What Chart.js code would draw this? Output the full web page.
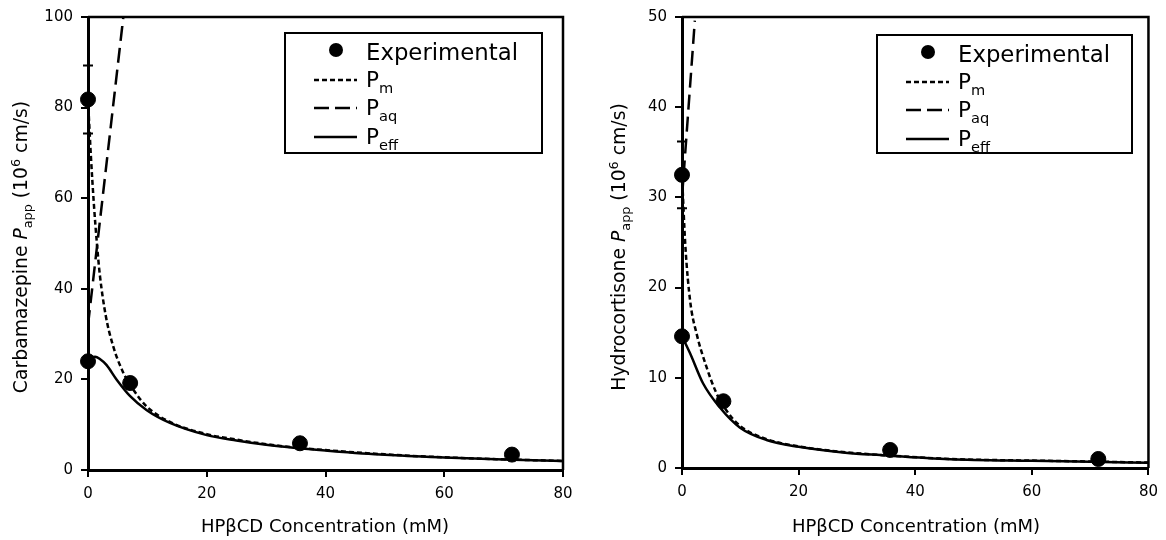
<!DOCTYPE html>
<html><head><meta charset="utf-8">
<script src="https://cdn.jsdelivr.net/npm/chart.js@4.4.1/dist/chart.umd.min.js"></script>
<style>
html,body{margin:0;padding:0;background:#fff;width:1166px;height:540px;overflow:hidden}
.box{position:absolute;top:0;width:583px;height:540px}
</style></head><body>
<div class="box" style="left:0"><canvas id="c1"></canvas></div>
<div class="box" style="left:583px"><canvas id="c2"></canvas></div>
<script>
// ---- data ----
const xTicks = [0, 20, 40, 60, 80];
const leftYTicks = [0, 20, 40, 60, 80, 100];
const rightYTicks = [0, 10, 20, 30, 40, 50];

const leftExpX = [0, 0, 7.1, 35.7, 71.4];
const leftExpY = [81.8, 24.0, 19.2, 5.9, 3.4];
const leftExpErr = [7.5, 0, 0, 0, 0];
const leftPmX = [0, 0.5, 1, 1.5, 2, 3, 4.2, 5.9, 7.6, 9.9, 13.8, 20, 25, 30, 35, 40, 50, 60, 70, 80];
const leftPmY = [81.7, 69, 58.5, 50, 43, 34, 27.5, 21.6, 17.8, 14, 10.6, 7.9, 6.7, 5.7, 4.95, 4.4, 3.45, 2.8, 2.35, 2.0];
const leftPaqX = [0, 5.95];
const leftPaqY = [32, 100];
const leftPeffX = [0, 0.6, 1.2, 2, 3.1, 4.8, 7.1, 9.9, 13.8, 20, 25, 30, 35, 40, 50, 60, 70, 80];
const leftPeffY = [24.2, 24.8, 25, 24.5, 23.2, 20, 16.3, 13.2, 10.4, 7.7, 6.5, 5.55, 4.85, 4.3, 3.35, 2.75, 2.3, 1.97];

const rightExpX = [0, 0, 7.1, 35.7, 71.4];
const rightExpY = [32.5, 14.6, 7.4, 2.0, 1.0];
const rightExpErr = [3.7, 0, 0, 0, 0];
const rightPmX = [0, 0.57, 1.4, 2.5, 4.2, 5.9, 7.6, 9.9, 14.5, 20, 28, 34, 46, 60, 70, 80];
const rightPmY = [32.5, 24.7, 18.5, 14.9, 11.2, 8.3, 6.4, 4.7, 3.2, 2.4, 1.75, 1.45, 1.0, 0.82, 0.72, 0.6];
const rightPaqX = [0, 2.2];
const rightPaqY = [30, 49.6];
const rightPeffX = [0, 1.4, 3.6, 6.5, 9.9, 14.5, 20, 28, 34, 46, 60, 70, 80];
const rightPeffY = [14.6, 12.7, 9.4, 6.7, 4.5, 3.1, 2.35, 1.7, 1.43, 0.98, 0.8, 0.7, 0.58];

const FONT = "'DejaVu Sans', Verdana, sans-serif";

function pts(xs, ys) { return xs.map((x, i) => ({ x: x, y: ys[i] })); }

function drawRich(ctx, segs, x, y, size, align) {
  const measure = s => {
    const fs = (s.sub || s.sup) ? size * 0.68 : size;
    ctx.font = (s.it ? 'italic ' : '') + fs + 'px ' + FONT;
    return ctx.measureText(s.t).width;
  };
  let total = 0;
  segs.forEach(s => total += measure(s));
  let cx = align === 'center' ? x - total / 2 : x;
  ctx.textBaseline = 'alphabetic';
  ctx.textAlign = 'left';
  segs.forEach(s => {
    const w = measure(s);
    let dy = 0;
    if (s.sub) dy = size * 0.28;
    if (s.sup) dy = -size * 0.38;
    ctx.fillText(s.t, cx, y + dy);
    cx += w;
  });
}

function makeChart(id, o) {
  const ctx = document.getElementById(id).getContext('2d');
  const deco = {
    id: 'deco',
    afterDatasetsDraw(chart) {
      const c = chart.ctx, a = chart.chartArea;
      const xs = chart.scales.x, ys = chart.scales.y;
      c.save();
      c.fillStyle = '#000';
      c.strokeStyle = '#000';
      c.lineWidth = 2;
      o.expX.forEach((xv, i) => {
        const e = o.expErr[i];
        if (!e) return;
        const px = xs.getPixelForValue(xv);
        const y1 = ys.getPixelForValue(o.expY[i] + e);
        const y2 = ys.getPixelForValue(o.expY[i] - e);
        c.beginPath();
        c.moveTo(px, y1); c.lineTo(px, y2);
        c.moveTo(px - 5, y1); c.lineTo(px + 5, y1);
        c.moveTo(px - 5, y2); c.lineTo(px + 5, y2);
        c.stroke();
      });
      c.lineWidth = 2.5;
      c.beginPath();
      c.moveTo(a.left, a.top); c.lineTo(a.right, a.top); c.lineTo(a.right, a.bottom);
      c.stroke();
      c.fillStyle = '#000';
      c.save();
      c.translate(o.yTitleX, o.yTitleY);
      c.rotate(-Math.PI / 2);
      drawRich(c, [{ t: o.yName + ' ' }, { t: 'P', it: true }, { t: 'app', sub: true }, { t: ' (10' }, { t: '6', sup: true }, { t: ' cm/s)' }], 0, 7, 18.8, 'center');
      c.restore();
      drawRich(c, [{ t: 'HPβCD Concentration (mM)' }], o.xTitleX, 532, 18, 'center');
      const L = o.legend;
      c.lineWidth = 2;
      c.strokeRect(L.x, L.y, L.w, L.h);
      c.beginPath();
      c.arc(L.x + 51, L.y + 17, 7, 0, Math.PI * 2);
      c.fill();
      drawRich(c, [{ t: 'Experimental' }], L.x + 81, L.y + 27, 22.8, 'left');
      const rows = [
        { sub: 'm', dash: [5, 3], dy: 47 },
        { sub: 'aq', dash: [15, 6], dy: 75 },
        { sub: 'eff', dash: [], dy: 104 }
      ];
      rows.forEach(r => {
        c.setLineDash(r.dash);
        c.lineWidth = 2.5;
        c.beginPath();
        c.moveTo(L.x + 29, L.y + r.dy);
        c.lineTo(L.x + 72, L.y + r.dy);
        c.stroke();
        c.setLineDash([]);
        drawRich(c, [{ t: 'P' }, { t: r.sub, sub: true }], L.x + 81, L.y + r.dy + 7, 21.5, 'left');
      });
      c.restore();
    }
  };
  const lineDs = (xs, ys, dash) => ({
    type: 'line', data: pts(xs, ys), borderColor: '#000', borderWidth: 2.5,
    borderDash: dash, pointRadius: 0, fill: false, cubicInterpolationMode: 'monotone'
  });
  return new Chart(ctx, {
    type: 'scatter',
    data: {
      datasets: [
        { label: 'Experimental', data: pts(o.expX, o.expY), backgroundColor: '#000', borderColor: '#000', pointRadius: 7.5, pointHoverRadius: 7.5, showLine: false, clip: false },
        lineDs(o.pmX, o.pmY, [5, 3]),
        lineDs(o.paqX, o.paqY, [15, 7]),
        lineDs(o.peffX, o.peffY, [])
      ]
    },
    options: {
      responsive: true, maintainAspectRatio: false, animation: false,
      layout: { padding: { top: o.top, right: o.right, left: 0, bottom: 0 } },
      plugins: { legend: { display: false }, tooltip: { enabled: false } },
      events: [],
      scales: {
        x: {
          type: 'linear', min: 0, max: 80,
          afterBuildTicks: s => { s.ticks = xTicks.map(v => ({ value: v })); },
          afterFit: s => { s.height = o.bottomH; },
          ticks: { color: '#000', font: { family: FONT, size: 15 }, padding: 8 },
          grid: { drawOnChartArea: false, drawTicks: true, tickLength: 7, color: '#000', lineWidth: 2 },
          border: { display: true, color: '#000', width: 3 }
        },
        y: {
          type: 'linear', min: 0, max: o.yMax,
          afterBuildTicks: s => { s.ticks = o.yTicks.map(v => ({ value: v })); },
          afterFit: s => { s.width = o.leftW; },
          ticks: { color: '#000', font: { family: FONT, size: 15 }, padding: 8 },
          grid: { drawOnChartArea: false, drawTicks: true, tickLength: 7, color: '#000', lineWidth: 2 },
          border: { display: true, color: '#000', width: 3 }
        }
      }
    },
    plugins: [deco]
  });
}

makeChart('c1', {
  expX: leftExpX, expY: leftExpY, expErr: leftExpErr,
  pmX: leftPmX, pmY: leftPmY, paqX: leftPaqX, paqY: leftPaqY, peffX: leftPeffX, peffY: leftPeffY,
  yMax: 100, yTicks: leftYTicks, yName: 'Carbamazepine',
  top: 17, right: 20, bottomH: 70, leftW: 88,
  yTitleX: 20, yTitleY: 247, xTitleX: 325,
  legend: { x: 285, y: 33, w: 257, h: 120 }
});
makeChart('c2', {
  expX: rightExpX, expY: rightExpY, expErr: rightExpErr,
  pmX: rightPmX, pmY: rightPmY, paqX: rightPaqX, paqY: rightPaqY, peffX: rightPeffX, peffY: rightPeffY,
  yMax: 50, yTicks: rightYTicks, yName: 'Hydrocortisone',
  top: 15, right: 16, bottomH: 72, leftW: 99,
  yTitleX: 35, yTitleY: 247, xTitleX: 333,
  legend: { x: 294, y: 35, w: 255, h: 118 }
});
</script>
</body></html>
